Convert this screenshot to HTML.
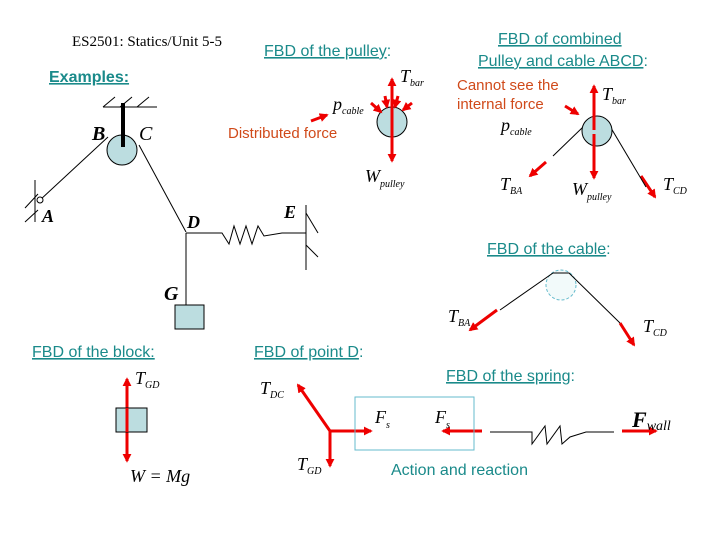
<!DOCTYPE html>
<html><head><style>
body{margin:0;background:#fff;}
svg{display:block;}
.t{font-family:"Liberation Sans",sans-serif;font-size:16px;fill:#1a8a8a;}
.r{font-family:"Liberation Sans",sans-serif;font-size:15px;fill:#d04a1a;}
.m{font-family:"Liberation Serif",serif;font-style:italic;fill:#000;}
</style></head><body>
<svg width="720" height="540" viewBox="0 0 720 540" xmlns="http://www.w3.org/2000/svg">
<defs>
<marker id="a" viewBox="0 0 10 10" refX="8" refY="5" markerWidth="3" markerHeight="3" orient="auto-start-reverse"><path d="M0,0L10,5L0,10z" fill="#e00"/></marker>
</defs>
<text x="72" y="46" font-family="Liberation Serif,serif" font-size="15">ES2501: Statics/Unit 5-5</text>
<text x="264" y="56" class="t"><tspan text-decoration="underline">FBD of the pulley</tspan>:</text>
<text x="498" y="44" class="t" text-decoration="underline">FBD of combined</text>
<text x="478" y="66" class="t"><tspan text-decoration="underline">Pulley and cable ABCD</tspan>:</text>
<text x="49" y="82" class="t" font-size="18" font-weight="bold" text-decoration="underline">Examples:</text>
<!-- main -->
<g stroke="#000" stroke-width="1" fill="none">
<line x1="103" y1="107" x2="157" y2="107"/>
<line x1="103" y1="107" x2="115" y2="97"/><line x1="120" y1="107" x2="132" y2="97"/><line x1="137" y1="107" x2="149" y2="97"/>
<line x1="40" y1="200" x2="108" y2="137"/>
<line x1="139" y1="145" x2="186" y2="232"/>
<line x1="186" y1="233" x2="186" y2="305"/>
<polyline points="186,233 222,233 229,244 234,226 240,244 246,226 252,244 258,226 264,236 282,233 306,233"/>
<line x1="306" y1="205" x2="306" y2="270"/>
<line x1="306" y1="213" x2="318" y2="233"/><line x1="306" y1="245" x2="318" y2="257"/>
<line x1="35" y1="180" x2="35" y2="222"/>
<line x1="25" y1="208" x2="38" y2="194"/><line x1="25" y1="222" x2="38" y2="210"/>
</g>
<circle cx="40" cy="200" r="3" fill="#fff" stroke="#000"/>
<circle cx="122" cy="150" r="15" fill="#bcdde0" stroke="#000"/>
<line x1="123" y1="103" x2="123" y2="147" stroke="#000" stroke-width="4"/>
<rect x="175" y="305" width="29" height="24" fill="#bcdde0" stroke="#000"/>
<text x="92" y="140" class="m" font-size="20" font-weight="bold">B</text>
<text x="139" y="140" class="m" font-size="20">C</text>
<text x="42" y="222" class="m" font-size="18" font-weight="bold">A</text>
<text x="187" y="228" class="m" font-size="18" font-weight="bold">D</text>
<text x="284" y="218" class="m" font-size="18" font-weight="bold">E</text>
<text x="164" y="300" class="m" font-size="20" font-weight="bold">G</text>
<!-- pulley FBD -->
<circle cx="392" cy="122" r="15" fill="#bcdde0" stroke="#000"/>
<g stroke="#e00" stroke-width="3" fill="none" marker-end="url(#a)">
<line x1="392" y1="125" x2="392" y2="79"/>
<line x1="392" y1="125" x2="392" y2="161"/>
<line x1="371" y1="103" x2="381" y2="112"/><line x1="385" y1="96" x2="387" y2="107"/>
<line x1="398" y1="96" x2="395" y2="107"/><line x1="412" y1="103" x2="403" y2="110"/>
<line x1="311" y1="121" x2="327" y2="115"/>
<line x1="594" y1="128" x2="594" y2="86"/><line x1="594" y1="132" x2="594" y2="178"/>
<line x1="546" y1="162" x2="530" y2="176"/>
<line x1="641" y1="176" x2="655" y2="197"/>
<line x1="565" y1="106" x2="578" y2="114"/>
<line x1="497" y1="310" x2="470" y2="330"/>
<line x1="620" y1="323" x2="634" y2="345"/>
<line x1="559" y1="284" x2="555" y2="274"/><line x1="564" y1="283" x2="564" y2="272"/>
<line x1="127" y1="410" x2="127" y2="379"/><line x1="127" y1="420" x2="127" y2="461"/>
<line x1="330" y1="431" x2="298" y2="385"/><line x1="330" y1="431" x2="371" y2="431"/><line x1="330" y1="431" x2="330" y2="466"/>
<line x1="482" y1="431" x2="443" y2="431"/>
<line x1="622" y1="431" x2="656" y2="431"/>
</g>
<text x="400" y="82" class="m" font-size="18">T<tspan font-size="10" dy="4">bar</tspan></text>
<text x="333" y="110" class="m" font-size="18">p<tspan font-size="10" dy="4">cable</tspan></text>
<text x="365" y="182" class="m" font-size="18">W<tspan font-size="10" dy="5">pulley</tspan></text>
<text x="228" y="138" class="r">Distributed force</text>
<!-- combined -->
<g stroke="#000" fill="none"><line x1="553" y1="156" x2="583" y2="127"/><line x1="611" y1="128" x2="646" y2="187"/></g>
<circle cx="597" cy="131" r="15" fill="#bcdde0" stroke="#000"/>
<line x1="594" y1="86" x2="594" y2="178" stroke="#e00" stroke-width="3"/>
<line x1="594" y1="130" x2="594" y2="134" stroke="#bcdde0" stroke-width="3"/>
<text x="457" y="90" class="r">Cannot see the</text>
<text x="457" y="109" class="r">internal force</text>
<text x="602" y="100" class="m" font-size="18">T<tspan font-size="10" dy="4">bar</tspan></text>
<text x="501" y="131" class="m" font-size="18">p<tspan font-size="10" dy="4">cable</tspan></text>
<text x="500" y="190" class="m" font-size="18">T<tspan font-size="10" dy="4">BA</tspan></text>
<text x="572" y="195" class="m" font-size="18">W<tspan font-size="10" dy="5">pulley</tspan></text>
<text x="663" y="190" class="m" font-size="18">T<tspan font-size="10" dy="4">CD</tspan></text>
<!-- cable -->
<text x="487" y="254" class="t"><tspan text-decoration="underline">FBD of the cable</tspan>:</text>
<circle cx="561" cy="285" r="15" fill="#f2fafa" stroke="#6bc" stroke-dasharray="3,2"/>
<polyline points="500,310 553,273 569,273 620,323" fill="none" stroke="#000"/>
<text x="448" y="322" class="m" font-size="18">T<tspan font-size="10" dy="4">BA</tspan></text>
<text x="643" y="332" class="m" font-size="18">T<tspan font-size="10" dy="4">CD</tspan></text>
<!-- block -->
<text x="32" y="357" class="t" text-decoration="underline">FBD of the block:</text>
<text x="254" y="357" class="t"><tspan text-decoration="underline">FBD of point D</tspan>:</text>
<text x="446" y="381" class="t"><tspan text-decoration="underline">FBD of the spring</tspan>:</text>
<rect x="116" y="408" width="31" height="24" fill="#bcdde0" stroke="#000"/>
<line x1="127" y1="408" x2="127" y2="432" stroke="#e00" stroke-width="3"/>
<text x="135" y="384" class="m" font-size="18">T<tspan font-size="10" dy="4">GD</tspan></text>
<text x="130" y="482" class="m" font-size="18">W = Mg</text>
<!-- point D -->
<rect x="355" y="397" width="119" height="53" fill="none" stroke="#6bc"/>
<text x="260" y="394" class="m" font-size="18">T<tspan font-size="10" dy="4">DC</tspan></text>
<text x="297" y="470" class="m" font-size="18">T<tspan font-size="10" dy="4">GD</tspan></text>
<text x="375" y="423" class="m" font-size="18">F<tspan font-size="10" dy="5">s</tspan></text>
<text x="435" y="423" class="m" font-size="18">F<tspan font-size="10" dy="5">s</tspan></text>
<polyline points="490,432 532,432 532,444 545,426 547,444 560,426 562,444 570,437 586,432 614,432" fill="none" stroke="#000"/>
<text x="632" y="427" class="m" font-size="22" font-weight="bold">F<tspan font-size="14" font-weight="normal" dy="3">wall</tspan></text>
<text x="391" y="475" class="t" font-size="15" fill="#5aa">Action and reaction</text>
</svg>
</body></html>
